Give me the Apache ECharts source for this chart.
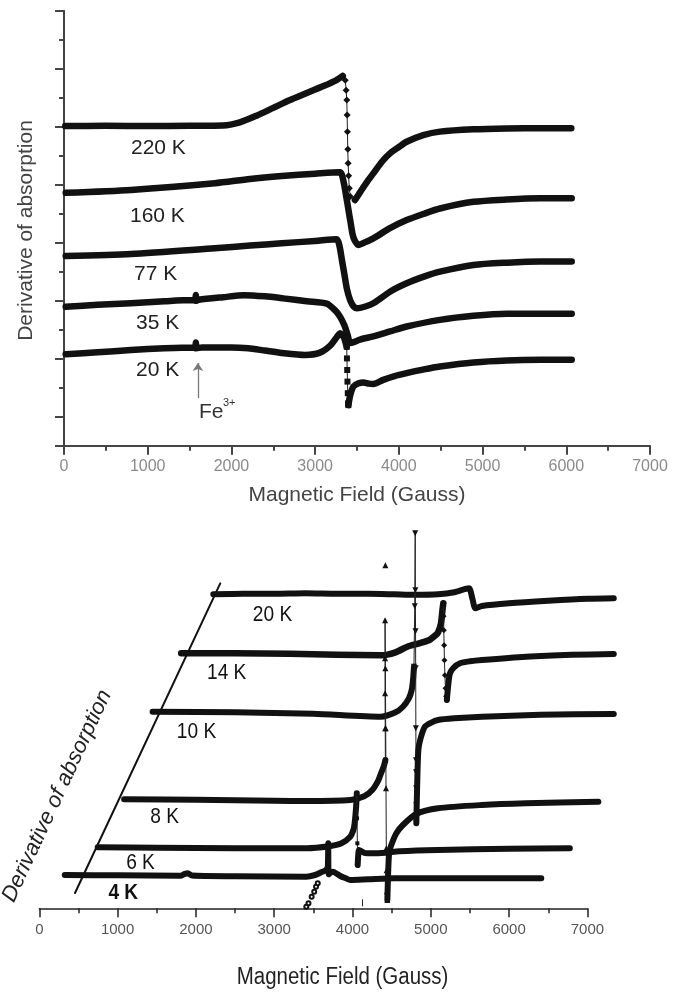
<!DOCTYPE html>
<html><head><meta charset="utf-8">
<script src="https://cdn.jsdelivr.net/npm/echarts@6/dist/echarts.min.js"></script>
<style>html,body{margin:0;padding:0;background:#fff}#c{width:685px;height:992px}</style>
</head><body><div id="c"></div><script>
// ---------- top panel: field (G) vs derivative (tick units) ----------
const k220Left = [[15,11.02],[500,11.03],[1000,11.02],[1500,11.03],[1900,11.04],[2100,11.15],[2300,11.38],[2500,11.65],[2700,11.92],[2900,12.16],[3100,12.4],[3250,12.6],[3330,12.75]];
const k220Drop = [[3330,12.75],[3360,12.6],[3370,12.26],[3378,11.92],[3382,11.4],[3386,10.83],[3390,10.22],[3394,9.74],[3400,9.31],[3408,8.88],[3420,8.59],[3476,8.47]];
const k220Right = [[3476,8.47],[3550,8.8],[3620,9.1],[3695,9.39],[3800,9.8],[3894,10.08],[4000,10.3],[4093,10.48],[4292,10.71],[4491,10.83],[4890,10.91],[5288,10.94],[5700,10.95],[6060,10.95]];
const k160 = [[20,8.72],[800,8.82],[1800,9.05],[2222,9.2],[2600,9.3],[3000,9.38],[3297,9.43],[3340,9.1],[3365,8.7],[3385,8.36],[3405,8.01],[3425,7.67],[3445,7.32],[3470,7.09],[3516,6.92],[3600,7.02],[3695,7.15],[3894,7.5],[4093,7.78],[4300,8.0],[4491,8.18],[4890,8.41],[5288,8.49],[5686,8.53],[6065,8.53]];
const k77 = [[20,6.54],[800,6.61],[1800,6.81],[2222,6.9],[2600,6.98],[3000,7.06],[3257,7.12],[3290,6.9],[3320,6.4],[3350,5.9],[3380,5.4],[3420,5.0],[3460,4.8],[3500,4.74],[3600,4.8],[3695,4.91],[3894,5.31],[4093,5.6],[4300,5.83],[4491,6.0],[4890,6.23],[5288,6.31],[5686,6.35],[6065,6.35]];
const k35 = [[20,4.79],[400,4.86],[800,4.91],[1200,4.98],[1540,5.02],[1565,5.0],[1575,5.2],[1585,5.0],[1610,5.03],[1900,5.12],[2150,5.19],[2400,5.15],[2618,5.08],[2900,4.98],[3138,4.9],[3245,4.65],[3297,4.45],[3349,4.15],[3390,3.8],[3417,3.54],[3470,3.58],[3536,3.66],[3695,3.77],[3894,3.94],[4093,4.11],[4491,4.34],[4890,4.48],[5288,4.55],[6065,4.55]];
const k20Left = [[20,3.15],[400,3.22],[800,3.30],[1200,3.36],[1540,3.39],[1565,3.36],[1575,3.56],[1585,3.36],[1650,3.39],[2000,3.39],[2200,3.36],[2400,3.28],[2600,3.2],[2879,3.13],[3050,3.2],[3180,3.45],[3260,3.75],[3300,3.88],[3340,3.75],[3377,3.41]];
const k20Drop = [[3377,3.41],[3380,3.01],[3383,2.61],[3386,2.21],[3390,1.81],[3394,1.46],[3397,1.40]];
const k20Right = [[3397,1.40],[3420,1.75],[3456,2.04],[3520,2.15],[3576,2.18],[3640,2.14],[3695,2.13],[3814,2.27],[3950,2.4],[4093,2.5],[4300,2.63],[4491,2.73],[4890,2.87],[5288,2.94],[5700,2.96],[6065,2.96]];
const feArrow = [[1600,1.64],[1600,2.85]];
const topLabels = ['220 K','160 K','77 K','35 K','20 K'];

// ---------- bottom panel: field (G) vs offset derivative ----------
const b20 = [[2222,31.4],[2600,31.45],[3000,31.45],[3400,31.5],[3800,31.45],[4200,31.45],[4532,31.4],[4800,31.35],[5093,31.4],[5300,31.6],[5486,32.0],[5530,31.0],[5570,30.0],[5654,30.23],[6000,30.5],[6500,30.75],[7000,30.95],[7337,31.0]];
const b14Left = [[1812,25.5],[2500,25.5],[3200,25.45],[3800,25.35],[4364,25.3],[4550,25.6],[4700,26.16],[4850,26.5],[4981,26.83],[5060,27.3],[5093,27.6],[5130,28.5],[5149,29.83],[5160,30.5]];
const b14Drop = [[5160,30.5],[5163,29.2],[5166,27.8],[5170,26.3],[5174,24.8],[5180,23.3],[5188,22.0],[5196,21.2],[5205,20.83]];
const b14Right = [[5205,20.83],[5225,22.5],[5245,23.5],[5290,24.05],[5373,24.5],[5500,24.7],[5654,24.83],[6215,25.16],[6800,25.35],[7337,25.43]];
const b10Left = [[1447,19.66],[2500,19.6],[3500,19.45],[4364,19.16],[4550,19.6],[4644,20.16],[4720,21.0],[4756,21.83],[4775,23.0],[4785,24.16]];
const b10Spike = [[4785,24.16],[4795,30.2],[4801,37.5],[4803,31.8],[4805,27.7],[4807,24.0],[4809,18.0],[4811,14.8],[4812,13.6],[4813,12.0],[4814,10.3],[4815,8.5]];
const b10Right = [[4815,8.5],[4825,12.0],[4841,15.83],[4870,17.0],[4925,18.16],[5000,18.55],[5093,18.83],[5300,19.0],[5654,19.16],[6400,19.35],[7337,19.43]];
const b8Left = [[1083,10.9],[2000,10.85],[3000,10.75],[3410,10.73],[3971,10.83],[4150,11.2],[4252,11.83],[4330,12.8],[4364,13.5],[4400,14.2],[4420,14.83]];
const b8Spike = [[4420,14.83],[4418,18.0],[4416,21.5],[4416,25.0],[4416,28.8],[4420,24.0],[4424,18.0],[4428,12.0],[4432,6.0],[4436,3.8],[4440,1.7],[4445,0.83]];
const b8Right = [[4445,0.83],[4455,3.5],[4470,5.66],[4504,6.5],[4560,7.5],[4644,8.33],[4813,9.43],[5093,10.0],[5654,10.33],[6215,10.5],[7140,10.66]];
const b8Outlier = [[4420,34.3]];
const b6Left = [[746,6.1],[1500,6.05],[2500,6.0],[3410,6.0],[3700,6.2],[3859,6.5],[3971,7.16],[4010,7.8],[4027,8.5],[4045,10.0],[4055,11.5]];
const b6Drop = [[4055,11.5],[4058,9.0],[4062,6.5],[4066,4.33]];
const b6Right = [[4066,4.33],[4075,5.5],[4083,5.83],[4150,5.55],[4252,5.5],[4420,5.56],[4600,5.7],[5093,5.83],[6000,5.95],[6776,6.0]];
const b4 = [[325,3.33],[1000,3.3],[1800,3.25],[1860,3.45],[1896,3.5],[1950,3.27],[2500,3.2],[3410,3.16],[3522,3.33],[3600,3.6],[3663,3.83],[3685,4.2],[3690,6.5],[3695,3.4],[3747,3.66],[3850,3.2],[3915,3.0],[3971,2.83],[4200,2.9],[4532,3.0],[5500,3.0],[6411,3.0]];
const bCircles = [[3410,0.16],[3438,0.5],[3478,1.16],[3511,1.66],[3534,2.16],[3556,2.5]];
const bSmallTick = [[4128,0.2],[4128,0.9]];
const bSkewAxis = [[456,1.53],[2311,32.5]];
const bottomLabels = ['20 K','14 K','10 K','8 K','6 K','4 K'];

const SANS = "'Liberation Sans', Arial, sans-serif";

function thick(data, grid, w, smooth) {
  return {type:'line', data, xAxisIndex: grid===0?0:2, yAxisIndex: grid===0?0:3,
    symbol:'none', showSymbol:false, silent:true,
    smooth: smooth===undefined ? 0.25 : smooth,
    lineStyle:{width:w, color:'#111', cap:'round', join:'round'}};
}
function thin(data, grid, sym, size, rot) {
  return {type:'line', data, xAxisIndex: grid===0?0:2, yAxisIndex: grid===0?0:3,
    symbol:sym, symbolSize:size, symbolRotate: rot||0, showSymbol:true, showAllSymbol:true,
    silent:true, lineStyle:{width:1, color:'#222'}, itemStyle:{color:'#111'}};
}

const axisCommon = (col, w) => ({
  axisLine:{show:true, onZero:false, lineStyle:{color:col, width:w}},
  axisTick:{show:true, length:9, lineStyle:{color:col, width:w}},
  minorTick:{show:true, splitNumber:2, length:5, lineStyle:{color:col, width:w}},
  splitLine:{show:false}, minorSplitLine:{show:false}
});

const topLabelPos = [[131,148],[130,216],[134,274],[136,323],[136,370]];
const botLabelPos = [[272.5,615],[226.7,672.5],[196.5,731.7],[164.7,816.7],[140.5,862.5],[123.3,893.3]];

const graphic = [];
topLabels.forEach((t,i)=>graphic.push({type:'text', x:topLabelPos[i][0], y:topLabelPos[i][1],
  style:{text:t, font:'21px '+SANS, fill:'#222', align:'left', verticalAlign:'middle'}}));
bottomLabels.forEach((t,i)=>graphic.push({type:'text', x:botLabelPos[i][0], y:botLabelPos[i][1], scaleX:0.87,
  style:{text:t, font:(i===5?'bold ':'')+'22px '+SANS, fill:'#111', align:'center', verticalAlign:'middle'}}));
graphic.push({type:'text', x:199, y:412, style:{text:'Fe', font:'21px '+SANS, fill:'#333', align:'left', verticalAlign:'middle'}});
graphic.push({type:'text', x:223, y:403, style:{text:'3+', font:'11px '+SANS, fill:'#333', align:'left', verticalAlign:'middle'}});
graphic.push({type:'text', x:357, y:495, style:{text:'Magnetic Field (Gauss)', font:'21px '+SANS, fill:'#444', align:'center', verticalAlign:'middle'}});
graphic.push({type:'text', x:26.5, y:230.5, rotation:Math.PI/2, style:{text:'Derivative of absorption', font:'21px '+SANS, fill:'#444', align:'center', verticalAlign:'middle'}});
graphic.push({type:'text', x:342.5, y:978, scaleX:0.89, style:{text:'Magnetic Field (Gauss)', font:'23px '+SANS, fill:'#222', align:'center', verticalAlign:'middle'}});
graphic.push({type:'text', x:57, y:796, rotation:65*Math.PI/180, style:{text:'Derivative of absorption', font:'italic 22px '+SANS, fill:'#222', align:'center', verticalAlign:'middle'}});

const noComma = v => String(v);
const option = {
  animation:false,
  backgroundColor:'#fff',
  grid:[
    {left:64, top:10.7, width:586, height:435},
    {left:39.3, top:528.3, width:548.1, height:380},
    {left:39.3, top:528.3, width:548.1*7400/7000, height:380}
  ],
  xAxis:[
    Object.assign({gridIndex:0, type:'value', min:0, max:7000, interval:1000,
      axisLabel:{color:'#8a8a8a', fontSize:16, margin:13, fontFamily:SANS, formatter:noComma}}, axisCommon('#444',2)),
    Object.assign({gridIndex:1, type:'value', min:0, max:7000, interval:1000,
      axisLabel:{color:'#555', fontSize:15, margin:14, fontFamily:SANS, formatter:noComma}}, axisCommon('#222',1.5)),
    {gridIndex:2, type:'value', min:0, max:7400, show:false}
  ],
  yAxis:[
    {gridIndex:0, type:'value', min:0, max:15, interval:1,
      axisLine:{show:true, lineStyle:{color:'#444', width:2}},
      axisTick:{show:true, length:5, lineStyle:{color:'#444', width:2}},
      axisLabel:{show:false}, splitLine:{show:false}},
    {gridIndex:0, type:'value', inverse:true, min:0, max:15, interval:2, position:'left', offset:0,
      axisLine:{show:false},
      axisTick:{show:true, length:9, lineStyle:{color:'#444', width:2}},
      axisLabel:{show:false}, splitLine:{show:false}},
    {gridIndex:1, type:'value', min:0, max:38, show:false},
    {gridIndex:2, type:'value', min:0, max:38, show:false}
  ],
  graphic: graphic,
  series:[
    thick(k220Left,0,6.5), thin(k220Drop,0,'diamond',7), thick(k220Right,0,6.5),
    thick(k160,0,6.5), thick(k77,0,6.5), thick(k35,0,6.5),
    thick(k20Left,0,6.5), thin(k20Drop,0,'rect',6), thick(k20Right,0,6.5),
    {type:'line', data:[], xAxisIndex:0, yAxisIndex:0, silent:true,
      markLine:{silent:true, symbol:['none','arrow'], symbolSize:8, label:{show:false},
        lineStyle:{type:'solid', color:'#777', width:1.3},
        data:[[{coord:feArrow[0]},{coord:feArrow[1]}]]}},
    thick(bSkewAxis,1,2,false),
    thick(b20,1,6), thick(b14Left,1,6.5), thin(b14Drop,1,'diamond',6), thick(b14Right,1,6),
    thick(b10Left,1,6), thin(b10Spike,1,'triangle',6,180), thick(b10Right,1,6),
    thick(b8Left,1,6), thin(b8Spike,1,'triangle',6), thick(b8Right,1,6), thin(b8Outlier,1,'triangle',6),
    thick(b6Left,1,6), thin(b6Drop,1,'rect',4), thick(b6Right,1,6),
    thick(b4,1,6),
    Object.assign(thin(bCircles,1,'emptyCircle',4), {lineStyle:{width:0}}),
    thin(bSmallTick,1,'none',0)
  ]
};
const chart = echarts.init(document.getElementById('c'), null, {renderer:'canvas'});
chart.setOption(option);
</script></body></html>
